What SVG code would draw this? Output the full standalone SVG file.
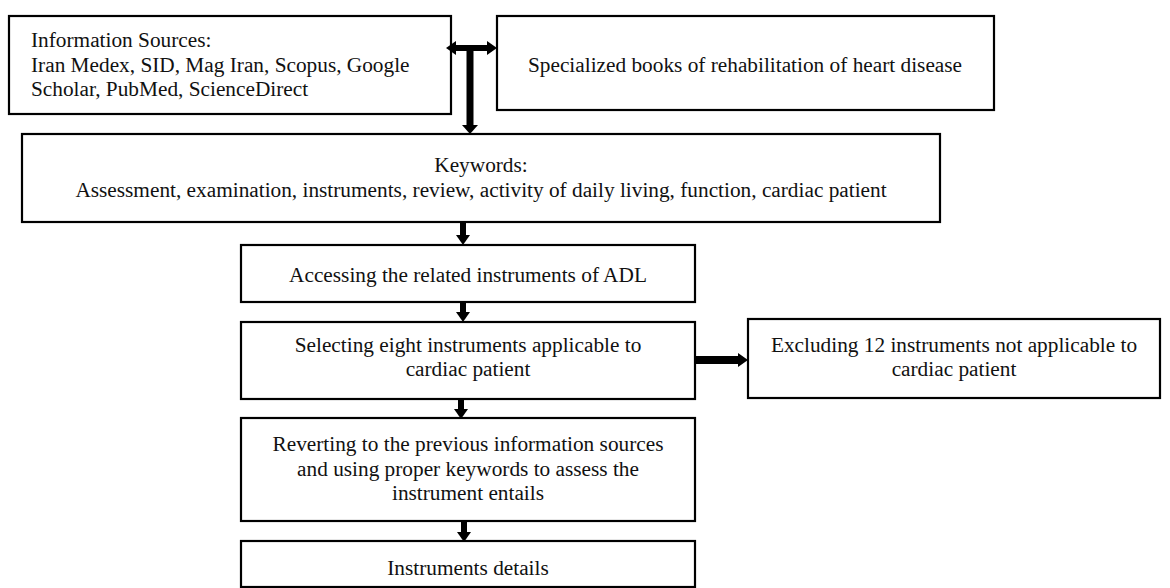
<svg xmlns="http://www.w3.org/2000/svg" width="1170" height="588" viewBox="0 0 1170 588">
<style>
.box{fill:#fff;stroke:#000;stroke-width:2.2}
text{font-family:"Liberation Serif","Times New Roman",serif;font-size:21.3px;fill:#111}
.c{text-anchor:middle}
.conn{stroke:#000;stroke-width:6;fill:none}
</style>
<defs>
<marker id="ah" markerUnits="userSpaceOnUse" markerWidth="10" markerHeight="14" refX="0" refY="7" orient="auto-start-reverse" viewBox="0 0 10 14">
<path d="M0,0 L10,7 L0,14 z" fill="#000"/>
</marker>
<marker id="ahb" markerUnits="userSpaceOnUse" markerWidth="9" markerHeight="16" refX="0" refY="8" orient="auto" viewBox="0 0 9 16">
<path d="M0,0 L9,8 L0,16 z" fill="#000"/>
</marker>
</defs>
<rect width="1170" height="588" fill="#fff"/>
<g id="sources">
<rect class="box" x="9" y="16" width="442" height="98"/>
<text x="31" y="47">Information Sources:</text>
<text x="31" y="72">Iran Medex, SID, Mag Iran, Scopus, Google</text>
<text x="31" y="96">Scholar, PubMed, ScienceDirect</text>
</g>
<g id="books">
<rect class="box" x="497" y="16" width="497" height="94"/>
<text class="c" x="745" y="72">Specialized books of rehabilitation of heart disease</text>
</g>
<g id="keywords">
<rect class="box" x="22" y="134" width="918" height="88"/>
<text class="c" x="481" y="172">Keywords:</text>
<text class="c" x="481" y="197">Assessment, examination, instruments, review, activity of daily living, function, cardiac patient</text>
</g>
<g id="accessing">
<rect class="box" x="241" y="245" width="454" height="57"/>
<text class="c" x="468" y="282">Accessing the related instruments of ADL</text>
</g>
<g id="selecting">
<rect class="box" x="241" y="322" width="454" height="77"/>
<text class="c" x="468" y="352">Selecting eight instruments applicable to</text>
<text class="c" x="468" y="376">cardiac patient</text>
</g>
<g id="excluding">
<rect class="box" x="748" y="319" width="412" height="79"/>
<text class="c" x="954" y="352">Excluding 12 instruments not applicable to</text>
<text class="c" x="954" y="376">cardiac patient</text>
</g>
<g id="reverting">
<rect class="box" x="241" y="418" width="454" height="103"/>
<text class="c" x="468" y="451">Reverting to the previous information sources</text>
<text class="c" x="468" y="476">and using proper keywords to assess the</text>
<text class="c" x="468" y="500">instrument entails</text>
</g>
<g id="details">
<rect class="box" x="241" y="541" width="454" height="46"/>
<text class="c" x="468" y="575">Instruments details</text>
</g>
<g id="connectors">
<line class="conn" x1="456" y1="48" x2="487" y2="48" marker-start="url(#ah)" marker-end="url(#ah)"/>
<line class="conn" x1="470" y1="45" x2="470" y2="125" style="stroke-width:7" marker-end="url(#ahb)"/>
<line class="conn" x1="463" y1="223" x2="463" y2="235" marker-end="url(#ah)"/>
<line class="conn" x1="463" y1="303" x2="463" y2="312" marker-end="url(#ah)"/>
<line class="conn" x1="461" y1="400" x2="461" y2="409" marker-end="url(#ah)"/>
<line class="conn" x1="464" y1="522" x2="464" y2="532" marker-end="url(#ah)"/>
<line class="conn" x1="696" y1="360" x2="738" y2="360" style="stroke-width:8" marker-end="url(#ah)"/>
</g>
</svg>
